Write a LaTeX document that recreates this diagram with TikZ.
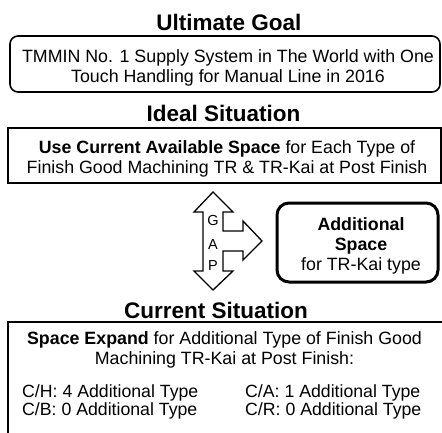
\documentclass[tikz,border=0pt]{standalone}
\usepackage{fontspec}
\setmainfont{Liberation Sans}
\begin{document}
\begin{tikzpicture}[x=1bp,y=-1bp,
  title/.style={font=\fontsize{22.5bp}{24bp}\selectfont\bfseries, inner sep=0, anchor=base},
  body/.style={font=\fontsize{17.8bp}{20bp}\selectfont, align=center, inner sep=0},
  cell/.style={font=\fontsize{17.7bp}{20bp}\selectfont, inner sep=0, anchor=base west},
  frame/.style={draw, line width=1.4bp, inner sep=0},
  gapletter/.style={font=\fontsize{14.5bp}{16bp}\selectfont, inner sep=0, anchor=base}]
\clip (0,0) rectangle (442,432);
\useasboundingbox (0,0) rectangle (442,432);
\fill[white] (0,0) rectangle (442,432);
% Ultimate goal
\node[title] (tgoal) at (229,30) {Ultimate Goal};
\node[frame, line width=1.6bp, rounded corners=8bp, minimum width=430bp, minimum height=56bp] (goalbox) at (225,64) {};
\node[body] (goaltext) at (228,68) {TMMIN No. 1 Supply System in The World with One\\Touch Handling for Manual Line in 2016};
% Ideal situation
\node[title] (tideal) at (223.5,121.5) {Ideal Situation};
\node[frame, minimum width=433bp, minimum height=55bp] (idealbox) at (224.5,155.5) {};
\node[body] (idealtext) at (227,159) {\textbf{Use Current Available Space} for Each Type of\\Finish Good Machining TR \& TR-Kai at Post Finish};
% GAP arrow
\draw[line width=1.3bp, line join=miter] (213,192) -- (233,212) -- (223,212) -- (223,231) -- (243,231) -- (243,221) -- (262,241)
  -- (243,260) -- (243,251) -- (223,251) -- (223,271) -- (233,271) -- (213,290) -- (194,271) -- (203,271) -- (203,212) -- (194,212) -- cycle;
\node[gapletter] (gg) at (213,225.5) {G};
\node[gapletter] (ga) at (213,249.5) {A};
\node[gapletter] (gp) at (213,270) {P};
% Additional space
\node[draw, line width=3bp, rounded corners=12bp, minimum width=161bp, minimum height=79bp] (addbox) at (357.5,242.5) {};
\node[body] (addtext) at (361,245.5) {\textbf{Additional}\\\textbf{Space}\\for TR-Kai type};
% Current situation
\node[title] (tcur) at (216,318) {Current Situation};
\node[frame, minimum width=440bp, minimum height=120bp] (curbox) at (228,382) {};
\node[body] (curtext) at (224.5,350) {\textbf{Space Expand} for Additional Type of Finish Good\\Machining TR-Kai at Post Finish:};
\node[cell] (ch) at (22,397) {C/H: 4 Additional Type};
\node[cell] (cb) at (22,415) {C/B: 0 Additional Type};
\node[cell] (ca) at (245,397) {C/A: 1 Additional Type};
\node[cell] (cr) at (245,415) {C/R: 0 Additional Type};
\end{tikzpicture}
\end{document}
